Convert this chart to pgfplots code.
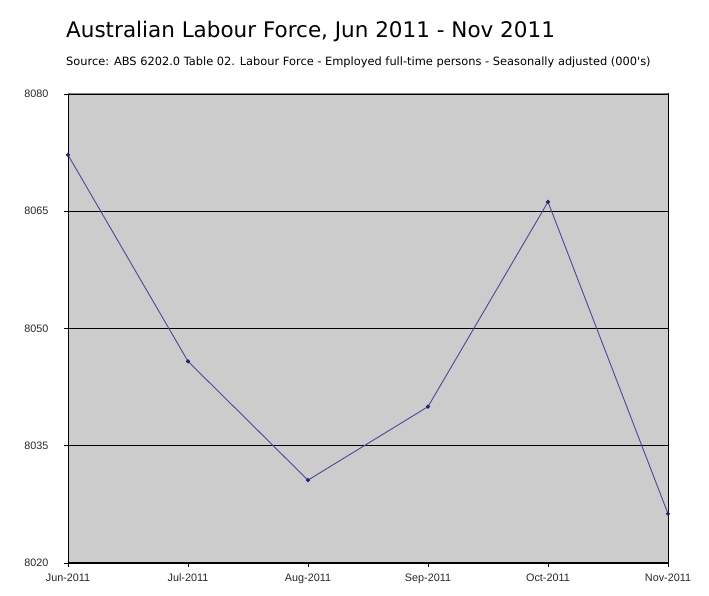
\documentclass[border=0pt]{standalone}
\usepackage{fontspec}
\setmainfont{Liberation Sans}
\newfontfamily\titlefont{DejaVu Sans}
\usepackage{pgfplots}
\pgfplotsset{compat=1.18}
\definecolor{cline}{HTML}{454A99}
\definecolor{cmark}{HTML}{1F2378}
\definecolor{cbg}{HTML}{CCCCCC}
\begin{document}
\begin{tikzpicture}[x=1pt,y=1pt]
\useasboundingbox (0,0) rectangle (709,596);
\node[anchor=base west, inner sep=0pt, font=\titlefont\fontsize{21.5}{24}\selectfont] at (66,558) {Australian Labour Force, Jun 2011 - Nov 2011};
\node[anchor=base west, inner sep=0pt, font=\titlefont\fontsize{11.4}{13}\selectfont] at (66,530) {Source: ABS 6202.0 Table 02. Labour Force - Employed full-time persons - Seasonally adjusted (000's)};
\begin{axis}[
  at={(68pt,33pt)}, anchor=south west,
  scale only axis, width=600pt, height=469pt,
  xmin=0, xmax=5, ymin=8020, ymax=8080,
  xtick={0,1,2,3,4,5},
  xticklabels={Jun-2011,Jul-2011,Aug-2011,Sep-2011,Oct-2011,Nov-2011},
  ytick={8020,8035,8050,8065,8080},
  /pgf/number format/assume math mode=true,
  /pgf/number format/.cd, set thousands separator={}, /pgfplots/.cd,
  tick label style={font=\fontsize{10.8}{12}\selectfont, text=black!85},
  xticklabel style={yshift=-3pt},
  yticklabel style={xshift=-12pt},
  tick align=outside, tick pos=left,
  major tick length=4pt,
  tick style={black, line width=0.8pt},
  ymajorgrids, grid style={black, line width=0.8pt},
  axis background/.style={fill=cbg},
  axis line style={black, line width=1pt},
  clip=false,
]
\addplot[cline, line width=0.9pt, mark=*, mark size=1.6pt, mark options={fill=cmark, draw=cmark}]
  coordinates {(0,8072.2) (1,8045.8) (2,8030.6) (3,8040.0) (4,8066.2) (5,8026.3)};
\draw[gray, line width=1pt] (axis cs:0,8080) -- (axis cs:5,8080);
\end{axis}
\end{tikzpicture}
\end{document}
